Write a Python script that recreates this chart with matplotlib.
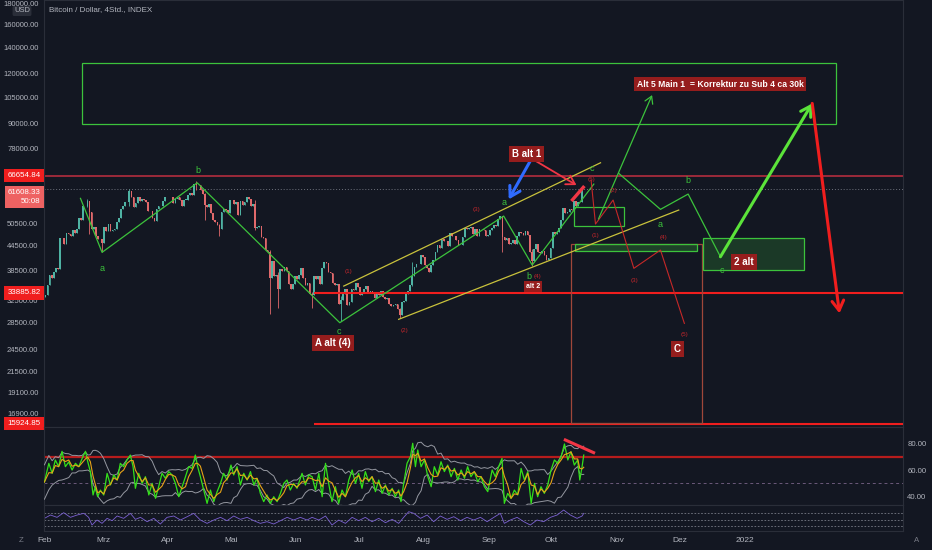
#!/usr/bin/env python3
"""BTC/USD 4h chart with Elliott-wave markup, RSI pane and oscillator pane."""
import matplotlib
matplotlib.use("Agg")
import matplotlib.pyplot as plt
from matplotlib.patches import Rectangle
from matplotlib.ticker import NullLocator
from matplotlib.transforms import blended_transform_factory
import numpy as np
import pandas as pd

plt.rcParams["font.family"] = ["Liberation Sans", "DejaVu Sans"]

BG = "#131722"
TXT = "#b2b5be"
EDGE = "#2a2e39"
UP, DOWN = "#4fb3a4", "#e0696b"
GREEN, LIME, YELLOW = "#3cc33c", "#5be33a", "#c9c23c"
RED, DARKRED, TAG_BG = "#f01e1e", "#c62828", "#951d1d"

BASE = pd.Timestamp("2021-01-01")

# ---- daily closes (x = days since 2021-01-01) ----
FIRST_DAY = "2021-02-01"
FIRST_OPEN = 33100
FEB = [33500, 35500, 37600, 36900, 38300, 39200, 38900, 46400, 46500, 44900, 47900, 47500, 47100, 48700,
       47900, 49100, 52100, 51600, 55900, 55900, 57500, 54200, 48900, 49700, 47100, 46300, 46200, 45100]
MAR = [49600, 48400, 50500, 48400, 48800, 48900, 51000, 52300, 54900, 55900, 57300, 57200, 61200, 59000,
       55600, 56900, 58900, 57600, 58300, 58100, 57400, 54500, 54300, 52300, 51300, 55100, 55800, 55800,
       57600, 58800, 58800]
APR = [59000, 59100, 57100, 58200, 59100, 58000, 56000, 58100, 58100, 59800, 60200, 59800, 63500, 63100,
       63300, 61500, 60100, 56200, 55700, 56500, 53800, 51700, 51100, 50100, 49000, 54000, 55000, 54800,
       53600, 57800]
MAY = [57800, 56600, 57200, 53200, 57500, 56400, 57400, 58800, 58200, 55900, 56700, 49200, 49700, 49900,
       46800, 46400, 43500, 42900, 37000, 40700, 37300, 37500, 34700, 38800, 38400, 39300, 38400, 35700,
       34600, 35700, 37300]
JUN = [36700, 37600, 39200, 36900, 35500, 35800, 33600, 33400, 37300, 36700, 37300, 35600, 39100, 40500,
       40200, 38300, 38100, 35800, 35500, 35600, 31700, 32500, 33700, 34700, 31600, 32200, 34700, 34500,
       35900, 35000]
JUL = [33500, 33800, 34700, 35300, 33900, 34200, 33900, 32900, 33800, 33500, 34300, 33100, 32700, 32800,
       31800, 31400, 31500, 31800, 30800, 29800, 32100, 32300, 33600, 34300, 35400, 37300, 39400, 40000,
       40000, 42200, 41600]
AUG = [39900, 39200, 38200, 39700, 40900, 42800, 44600, 43800, 46300, 45600, 45600, 44400, 47800, 47100,
       47000, 46000, 44700, 44800, 46700, 49300, 48900, 49300, 49500, 47700, 48900, 47000, 49100, 48900,
       48800, 47100, 47200]
SEP = [48800, 49300, 50000, 49900, 51800, 52700, 46900, 46100, 46400, 44900, 45200, 46100, 44900, 47100,
       48200, 47800, 47300, 48300, 47300, 43000, 40700, 43600, 44900, 42800, 42700, 43200, 42200, 41000,
       41500, 43800]
OKT = [48100, 47700, 48200, 49200, 51500, 55300, 53800, 53900, 54900, 54700, 57500, 56000, 57400, 57300,
       61700, 61608]

# notable wicks
WICK_DATES = ["2021-02-21", "2021-02-22", "2021-02-28", "2021-03-13", "2021-04-14", "2021-04-18",
              "2021-04-25", "2021-05-12", "2021-05-19", "2021-05-23", "2021-06-08", "2021-06-22",
              "2021-07-20", "2021-07-26", "2021-09-07", "2021-09-21", "2021-10-15"]
WICK_LOWS = [55500, 47600, 43000, 56000, 61300, 51500, 47000, 48600, 30000, 31100, 31000, 28800,
             29300, 35200, 42800, 39600, 57200]
WICK_HIGHS = [58300, 57500, 46300, 61700, 64800, 60400, 50500, 58000, 43500, 38200, 34000, 33300,
              31000, 40500, 52900, 43600, 62900]

# price levels
LEVEL_TOP = 66654.84
LEVEL_LAST = 61608.33
LEVEL_MID = 33885.82
LEVEL_LOW = 15924.85
LEVEL_START = 159.5

PRICE_TICKS = [16900, 19100, 21500, 24500, 28500, 32500, 38500, 44500, 50500,
               78000, 90000, 105000, 120000, 140000, 160000, 180000]
MONTH_DAYS = [31, 59, 90, 120, 151, 181, 212, 243, 273, 304, 334, 365]
MONTH_LABELS = ["Feb", "Mrz", "Apr", "Mai", "Jun", "Jul", "Aug", "Sep", "Okt", "Nov", "Dez", "2022"]

# ---- drawings (day, price) ----
WAVE_DAYS = [48.2, 58.5, 103.9, 171.9, 250.1, 263.7, 293.1]
WAVE_PRICES = [58480, 42820, 63980, 28520, 52800, 39790, 63510]
CHAN_UP_DAYS, CHAN_UP_PRICES = [173.8, 296.3], [35240, 71830]
CHAN_LO_DAYS, CHAN_LO_PRICES = [200.0, 333.6], [29080, 54660]
ALT5_DAYS, ALT5_PRICES = [295.3, 320.9], [51890, 106190]
PROJ_DAYS = [305.0, 324.9, 338.1, 353.5]
PROJ_PRICES = [67560, 54880, 59950, 41740]
BIG_UP_DAYS, BIG_UP_PRICES = [353.5, 397.3], [41740, 101200]
BIG_DOWN_DAYS, BIG_DOWN_PRICES = [397.3, 410.3], [101200, 30100]
RED_PROJ_DAYS = [291.8, 293.9, 302.3, 312.2, 324.9, 336.3]
RED_PROJ_PRICES = [65000, 50420, 57910, 39040, 43390, 28410]
BLUE_DAYS, BLUE_PRICES = [263.2, 252.5], [73240, 58140]
REDARR_DAYS, REDARR_PRICES = [263.3, 284.8], [73670, 63140]
DIV_DAYS, DIV_PRICES = [282.4, 288.6], [57580, 62790]

# boxes: day0, day1, price0, price1
TARGET_BOX = (49.1, 408.4, 89800, 127700)
SUB_BOX = (283.5, 307.3, 49800, 55700)
THIN_ZONE = (283.9, 342.5, 43200, 44900)
ALT2_ZONE = (345.4, 393.6, 38700, 46400)
C_BOX = (282.4, 344.6, 16000, 44900)

TAG_TEXT = ["B alt 1", "A alt (4)", "alt 2", "Alt 5 Main 1  = Korrektur zu Sub 4 ca 30k", "2 alt", "C"]
TAG_DAYS = [261.0, 168.7, 264.1, 353.5, 364.8, 332.9]
TAG_PRICES = [75520, 25320, 35100, 112950, 40410, 24450]
TAG_SIZES = [7, 7, 5, 6.2, 7, 7]

GL_TEXT = ["b", "a", "c", "a", "b", "c", "b", "a", "c"]
GL_DAYS = [104.0, 58.5, 171.4, 250.1, 262.1, 292.3, 338.1, 324.9, 354.0]
GL_PRICES = [68860, 39040, 27070, 57010, 37190, 69530, 64730, 50420, 38500]

RC_TEXT = ["(1)", "(2)", "(3)", "(4)", "(5)", "(1)", "(2)", "(3)", "(4)", "(5)"]
RC_DAYS = [175.9, 202.9, 237.1, 266.4, 292.0, 293.9, 302.6, 312.5, 326.2, 336.5]
RC_PRICES = [38280, 27340, 54880, 37190, 65260, 47120, 61350, 36490, 46580, 26670]

# ---- RSI pane (swing points) ----
RSI_DAYS = [31.0, 33.1, 34.7, 36.2, 37.8, 39.4, 41.0, 42.6, 44.2, 45.8, 47.4, 49.0, 50.6, 51.7, 52.9,
            54.2, 55.3, 56.4, 57.7, 59.3, 60.9, 62.5, 64.1, 65.7, 67.2, 68.8, 70.4, 72.0, 73.3, 74.4,
            76.0, 77.6, 79.2, 80.8, 82.4, 84.0, 85.5, 87.1, 88.7, 90.3, 91.9, 93.5, 95.1, 96.7, 98.3,
            99.8, 101.4, 103.0, 104.1, 105.4, 107.0, 108.6, 110.2, 111.8, 113.4, 115.0, 116.5, 118.1,
            120.0, 121.3, 122.9, 124.5, 126.1, 127.7, 129.3, 130.9, 132.4, 134.0, 135.6, 137.2, 138.8,
            140.4, 142.0, 143.6, 145.2, 146.7, 148.3, 149.9, 151.5, 153.9, 155.5, 157.1,
            158.7, 160.3, 161.9, 163.5, 165.1, 166.6, 168.2, 169.8, 171.4, 173.0, 174.6, 176.2, 177.8,
            179.4, 180.9, 182.5, 184.1, 185.7, 187.3, 188.9, 190.5, 192.1, 193.7, 195.3, 196.9, 198.4,
            200.0, 201.1, 202.4, 204.0, 205.6, 206.7, 208.0, 209.1, 210.7, 212.3, 213.9, 215.5, 217.0,
            218.6, 220.2, 221.8, 223.4, 225.0, 226.6, 228.2, 229.8, 231.4, 232.9, 234.5, 236.1, 237.7,
            239.3, 240.9, 242.5, 244.6, 246.1, 247.7, 249.3, 250.4, 252.0, 253.6, 255.2, 256.8, 258.4,
            260.0, 261.6, 263.2, 264.8, 266.3, 267.9, 269.5, 271.1, 272.7, 274.3, 275.9, 277.5, 279.1,
            280.7, 282.2, 283.8, 285.4, 286.4, 287.5, 288.3]
RSI_VALUES = [51, 65, 57.5, 67.5, 62.5, 74, 62.5, 66, 60, 65, 62.5, 68.7, 74, 66, 58.8,
              41.3, 47.5, 40, 45, 41.3, 57.5, 48.8, 56.3, 52.5, 65, 62.5, 67.5, 71.2, 62.5, 46.3,
              57.5, 50, 55, 41.3, 50, 38.8, 47.5, 57.5, 53.8, 58.8, 56.3, 50, 40, 47.5, 55,
              62.5, 61.2, 71.2, 62.5, 55, 45, 35, 45, 36.3, 43.8, 50, 57.5, 52.5,
              63.7, 56.3, 62.5, 48.8, 57.5, 52.5, 58.8, 48.8, 53.8, 42.5, 36.3, 41.3, 35,
              40, 36.3, 42.5, 50, 52.5, 45, 50, 46.3, 57.5, 48.8, 56.3,
              55, 45, 57.5, 40, 65, 50, 36.3, 47.5, 35, 45, 40, 52.5, 60,
              50, 57.5, 46.3, 58.8, 51.3, 55, 43.8, 52.5, 42.5, 48.8, 41.3, 46.3, 40,
              45, 36.3, 50, 65, 70, 80, 62.5, 75, 62.5, 67.5, 55, 47.5, 62.5,
              56.3, 66.2, 58.8, 63.7, 55, 61.2, 52.5, 60, 53.8, 62.5, 55, 58.8, 51.3,
              55, 47.5, 43.8, 60, 55, 62.5, 68.7, 35, 42.5, 38.8, 45, 41.3, 61.2,
              52.5, 58.8, 35, 50, 40, 47.5, 42.5, 48.8, 60, 67.5, 65, 70, 79.5,
              67.5, 73.7, 63.7, 67.5, 52.5, 62.5, 71.2]
RSI_DIV_DAYS, RSI_DIV_VALUES = [279.5, 293.0], [82.5, 73.0]

# ---- lower oscillator pane ----
OSC_DAYS = [31.0, 33.9, 37.0, 40.2, 43.4, 46.6, 49.8, 52.1, 53.7, 56.1, 58.5, 60.9, 63.3, 65.7, 68.8,
            72.0, 74.4, 76.8, 80.0, 83.2, 86.3, 89.5, 92.7, 95.9, 99.1, 102.2, 105.4, 108.6, 111.8,
            115.0, 118.1, 121.3, 124.5, 127.7, 130.9, 134.0, 137.2, 140.4, 143.6, 146.8, 149.9, 153.1,
            156.3, 158.7, 161.9, 165.1, 168.2, 171.4, 174.6, 177.8, 180.9, 184.1, 187.3, 190.5, 193.7,
            196.9, 200.0, 202.4, 204.8, 207.2, 210.4, 213.6, 216.7, 219.9, 223.1, 226.3, 229.5, 232.6,
            235.8, 239.0, 242.2, 245.4, 248.5, 250.4, 253.3, 256.5, 259.7, 262.8, 266.0, 269.2, 272.4,
            275.6, 278.7, 281.9, 285.1, 287.5, 288.3]
OSC_VALUES = [56.1, 71.9, 60.9, 82.9, 60.9, 71.9, 79.8, 60.9, 24.6, 48.3, 32.5, 56.1, 45.1, 67.2, 56.1,
              79.8, 51.4, 60.9, 40.4, 56.1, 29.4, 60.9, 67.2, 48.3, 64.0, 79.8, 48.3, 32.5, 48.3,
              60.9, 45.1, 67.2, 51.4, 60.9, 45.1, 32.5, 40.4, 29.4, 45.1, 60.9, 48.3, 60.9,
              48.3, 60.9, 48.3, 67.2, 24.6, 48.3, 32.5, 60.9, 45.1, 60.9, 40.4, 56.1, 35.7,
              51.4, 32.5, 60.9, 87.6, 79.8, 56.1, 71.9, 40.4, 67.2, 51.4, 64.0, 45.1, 60.9,
              48.3, 60.9, 40.4, 60.9, 79.8, 32.5, 48.3, 60.9, 40.4, 24.6, 48.3, 40.4, 60.9,
              71.9, 95.5, 71.9, 56.1, 67.2, 79.8]

W, H = 932, 550


def frame(l, t, r, b):
    return [l / W, 1 - b / H, (r - l) / W, (b - t) / H]


def style(a):
    a.set_facecolor(BG)
    for s in a.spines.values():
        s.set_color(EDGE)
        s.set_linewidth(0.8)
    a.set_xlim(30.8, 440.6)
    a.set_xticks([])


fig = plt.figure(figsize=(W / 100, H / 100), dpi=100, facecolor=BG)
ax = fig.add_axes(frame(44, 0, 903, 427))
rsi = fig.add_axes(frame(44, 427, 903, 505))
osc = fig.add_axes(frame(44, 505, 903, 531))
for a in (ax, rsi, osc):
    style(a)

# ---- candles ----
closes = np.array(FEB + MAR + APR + MAY + JUN + JUL + AUG + SEP + OKT, dtype=float)
opens = np.concatenate([[FIRST_OPEN], closes[:-1]])
x = (pd.Timestamp(FIRST_DAY) - BASE).days + np.arange(len(closes)) + 0.5
lows = np.minimum(opens, closes)
highs = np.maximum(opens, closes)
for d, lo, hi in zip(WICK_DATES, WICK_LOWS, WICK_HIGHS):
    i = (pd.Timestamp(d) - pd.Timestamp(FIRST_DAY)).days
    lows[i], highs[i] = lo, hi
cols = np.where(closes >= opens, UP, DOWN)
ax.vlines(x, lows, highs, colors=cols, lw=0.6, zorder=3)
ax.bar(x, np.maximum(np.abs(closes - opens), 80), bottom=np.minimum(opens, closes),
       width=0.8, color=cols, linewidth=0, zorder=3)

ax.set_yscale("log")
ax.set_ylim(15615, 183900)
ax.yaxis.set_minor_locator(NullLocator())
ax.set_yticks(PRICE_TICKS)
ax.set_yticklabels([f"{v:.2f}" for v in PRICE_TICKS])
ax.tick_params(axis="y", length=0, pad=4, labelsize=5.5, labelcolor=TXT)

# levels
ax.axhline(LEVEL_TOP, color="#9c2a3a", lw=1.4, zorder=2)
ax.axhline(LEVEL_LAST, color="#6f727d", lw=0.7, ls=(0, (1, 2)), zorder=2)
ax.hlines([LEVEL_MID, LEVEL_LOW], LEVEL_START, 440.6, color=RED, lw=1.5, zorder=4)

# boxes
def rect(b, **kw):
    d0, d1, p0, p1 = b
    ax.add_patch(Rectangle((d0, p0), d1 - d0, p1 - p0, **kw))

rect(TARGET_BOX, fill=False, ec=GREEN, lw=0.9, zorder=4)
rect(SUB_BOX, fill=False, ec=GREEN, lw=0.9, zorder=4)
rect(C_BOX, fill=False, ec="#a0473a", lw=0.9, zorder=4)
rect(THIN_ZONE, fc=(0.24, 0.76, 0.24, 0.25), ec=GREEN, lw=0.9, zorder=4)
rect(ALT2_ZONE, fc=(0.24, 0.76, 0.24, 0.2), ec=GREEN, lw=0.9, zorder=4)

# wave lines
ax.plot(WAVE_DAYS, WAVE_PRICES, color=GREEN, lw=0.9, zorder=5)
ax.plot(CHAN_UP_DAYS, CHAN_UP_PRICES, color=YELLOW, lw=0.9, zorder=5)
ax.plot(CHAN_LO_DAYS, CHAN_LO_PRICES, color=YELLOW, lw=0.9, zorder=5)
ax.plot(PROJ_DAYS, PROJ_PRICES, color=GREEN, lw=0.9, zorder=5)
ax.plot(RED_PROJ_DAYS, RED_PROJ_PRICES, color=DARKRED, lw=0.8, zorder=5)
ax.plot(DIV_DAYS, DIV_PRICES, color="#f23645", lw=2.4, zorder=6, solid_capstyle="butt")


def arrow(xs, ys, color, lw, head):
    ax.annotate("", xy=(xs[1], ys[1]), xytext=(xs[0], ys[0]), zorder=6,
                arrowprops=dict(arrowstyle=f"->,head_length={head},head_width={head * 0.6}",
                                color=color, lw=lw, shrinkA=0, shrinkB=0))


arrow(ALT5_DAYS, ALT5_PRICES, GREEN, 0.9, 0.5)
arrow(BIG_UP_DAYS, BIG_UP_PRICES, LIME, 2.2, 0.7)
arrow(BIG_DOWN_DAYS, BIG_DOWN_PRICES, RED, 2.2, 0.7)
arrow(BLUE_DAYS, BLUE_PRICES, "#2f6bff", 2.2, 0.7)
arrow(REDARR_DAYS, REDARR_PRICES, "#f23645", 1.3, 0.6)

# labels
for t, d, p, fs in zip(TAG_TEXT, TAG_DAYS, TAG_PRICES, TAG_SIZES):
    ax.text(d, p, t, ha="center", va="center", color="white", fontsize=fs, fontweight="bold", zorder=7,
            bbox=dict(boxstyle="square,pad=0.3", fc=TAG_BG, ec="none"))
for t, d, p in zip(GL_TEXT, GL_DAYS, GL_PRICES):
    ax.text(d, p, t, ha="center", va="center", color=GREEN, fontsize=6.5, zorder=7)
for t, d, p in zip(RC_TEXT, RC_DAYS, RC_PRICES):
    ax.text(d, p, t, ha="center", va="center", color="#c0262b", fontsize=4.5, zorder=7)

# price-axis badges
left = blended_transform_factory(ax.transAxes, ax.transData)
for val, txt, fc in [(LEVEL_TOP, f"{LEVEL_TOP:.2f}", RED),
                     (LEVEL_MID, f"{LEVEL_MID:.2f}", RED),
                     (LEVEL_LOW, f"{LEVEL_LOW:.2f}", RED)]:
    ax.text(-0.004, val, txt, transform=left, ha="right", va="center", color="white", fontsize=5.7,
            clip_on=False, zorder=8, bbox=dict(boxstyle="square,pad=0.4", fc=fc, ec="none"))
ax.text(-0.004, LEVEL_LAST, f"{LEVEL_LAST:.2f}\n50:08", transform=left, ha="right", va="top",
        ma="right", color="white", fontsize=5.7, clip_on=False, zorder=8, linespacing=1.25,
        bbox=dict(boxstyle="square,pad=0.4", fc="#ee6262", ec="none"))

fig.text(49 / W, 1 - 10 / H, "Bitcoin / Dollar, 4Std., INDEX", color=TXT, fontsize=5.8, va="center")
fig.text(22 / W, 1 - 11 / H, "USD", color=TXT, fontsize=5.4, ha="center", va="center",
         bbox=dict(boxstyle="round,pad=0.2", fc=EDGE, ec="none"))

# ---- RSI pane ----
rsi_s = pd.Series(RSI_VALUES)
rsi_ma = rsi_s.rolling(3, min_periods=1).mean()
band_mid = rsi_s.rolling(8, min_periods=1).mean()
band_sd = rsi_s.rolling(8, min_periods=2).std().bfill()
rsi.set_ylim(33.8, 92.2)
rsi.axhline(70, color="#b71c1c", lw=1.6, zorder=2)
rsi.axhline(50, color="#6b5a7a", lw=0.7, ls=(0, (3, 3)), zorder=1)
rsi.plot(RSI_DAYS, band_mid + 1.3 * band_sd, color="#9598a1", lw=0.7, zorder=3)
rsi.plot(RSI_DAYS, band_mid - 1.3 * band_sd, color="#9598a1", lw=0.7, zorder=3)
rsi.plot(RSI_DAYS, RSI_VALUES, color="#33e01a", lw=0.9, zorder=4)
rsi.plot(RSI_DAYS, rsi_ma, color="#e8a317", lw=0.8, zorder=5)
rsi.plot(RSI_DIV_DAYS, RSI_DIV_VALUES, color="#f23645", lw=2.2, zorder=6)
rsi.yaxis.tick_right()
rsi.set_yticks([40, 60, 80])
rsi.set_yticklabels(["40.00", "60.00", "80.00"])
rsi.tick_params(axis="y", length=0, pad=3, labelsize=5.6, labelcolor=TXT)

# ---- oscillator pane ----
osc.set_ylim(-3.6, 119.2)
for lv in (80, 50, 20):
    osc.axhline(lv, color="#787b86", lw=0.6, ls=(0, (2, 2)))
osc.plot(OSC_DAYS, OSC_VALUES, color="#7b61d1", lw=0.6)
osc.set_yticks([])
osc.set_xticks(MONTH_DAYS)
osc.set_xticklabels(MONTH_LABELS)
osc.tick_params(axis="x", length=0, pad=4.5, labelsize=6, labelcolor=TXT)

fig.text(21 / W, 1 - 540 / H, "Z", color="#787b86", fontsize=5.6, ha="center", va="center")
fig.text(917 / W, 1 - 540 / H, "A", color="#787b86", fontsize=5.6, ha="center", va="center")

fig.savefig("out.png", dpi=100, facecolor=BG)
